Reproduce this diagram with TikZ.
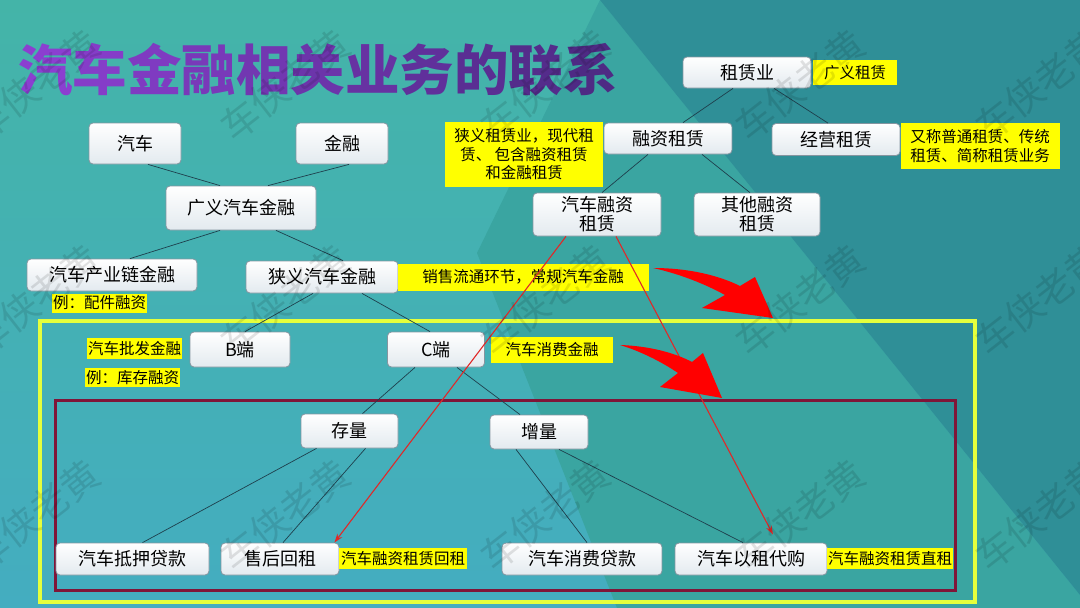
\documentclass[tikz,border=0pt]{standalone}
\usepackage{fontspec}
\setmainfont{Noto Sans CJK SC}
\usetikzlibrary{arrows.meta}

\definecolor{bgtop}{HTML}{44B4A8}
\definecolor{bgbottom}{HTML}{44ADC0}
\definecolor{bgmid}{HTML}{3AA5A1}
\definecolor{bgdark}{HTML}{2F8F97}
\definecolor{boxfill}{HTML}{E3EAEF}
\definecolor{boxline}{HTML}{8595A0}
\definecolor{tagyellow}{HTML}{FFFF00}
\definecolor{frameyellow}{HTML}{E5FF3C}
\definecolor{framemaroon}{HTML}{7F1538}
\definecolor{linkdark}{HTML}{1E3F4C}
\definecolor{redline}{HTML}{E02828}
\definecolor{tpA}{HTML}{8B3FD0}
\definecolor{tpB}{HTML}{4E2A84}

\begin{document}
\begin{tikzpicture}[x=1pt,y=-1pt,
  box/.style={rectangle,rounded corners=4pt,draw=boxline,line width=0.8pt,
    top color=white,bottom color=boxfill,align=center,inner sep=0pt,
    font=\fontsize{18}{19}\selectfont,minimum width=#1,minimum height=32pt},
  box/.default=128pt,
  yellowtag/.style={rectangle,fill=tagyellow,align=center,inner sep=0pt,
    font=\fontsize{15.5}{18.5}\selectfont,minimum width=#1,minimum height=21pt},
  link/.style={draw=linkdark,line width=0.7pt},
  redlink/.style={draw=redline,line width=1.1pt,-{Stealth[length=9pt,width=6pt]}},
  bigarrow/.style={fill=red,draw=none},
  wmk/.style={font=\fontsize{38}{38}\selectfont,text=black,text opacity=0.11}]
\useasboundingbox (0,0) rectangle (1080,608);

% background
\shade[top color=bgtop,bottom color=bgbottom] (0,0) rectangle (1080,608);
\fill[bgmid] (600,0) -- (1080,595) -- (1080,608) -- (617,608) -- (477,253) -- cycle;
\fill[bgdark] (600,0) -- (1080,0) -- (1080,595) -- cycle;

% title
\node[font=\fontsize{54.5}{60}\selectfont\bfseries] (title) at (318,70)
  {\color{tpA}汽\color{tpA!90!tpB}车\color{tpA!80!tpB}金\color{tpA!70!tpB}融\color{tpA!60!tpB}相\color{tpA!50!tpB}关\color{tpA!40!tpB}业\color{tpA!30!tpB}务\color{tpA!20!tpB}的\color{tpA!10!tpB}联\color{tpB}系};

% frames
\draw[frameyellow,line width=3.5pt] (40,321) rectangle (975,602);
\draw[framemaroon,line width=3pt] (55,400) rectangle (955,590);

% leasing side
\node[box,minimum height=31pt] (zly) at (747,72.5) {租赁业};
\node[box,minimum height=31pt] (rzzl) at (668,138.5) {融资租赁};
\node[box] (jyzl) at (836,139.5) {经营租赁};
\node[box,minimum height=43pt] (qcrz) at (597,214.5) {汽车融资\\租赁};
\node[box=126pt,minimum height=43pt] (qtrz) at (757,214.5) {其他融资\\租赁};

% auto finance side
\node[box=92pt,minimum height=41pt] (qc) at (135,143.5) {汽车};
\node[box=92pt,minimum height=41pt] (jr) at (342,143.5) {金融};
\node[box=150pt,minimum height=44pt] (gyqc) at (241,208) {广义汽车金融};
\node[box=170pt] (cyl) at (112,275) {汽车产业链金融};
\node[box=152pt] (xyqc) at (322,277) {狭义汽车金融};
\node[box=100pt,minimum height=35pt] (bd) at (240,349.5) {B端};
\node[box=97pt,minimum height=35pt] (cd) at (436,349.5) {C端};
\node[box=97pt,minimum height=34pt] (cl) at (349.5,431) {存量};
\node[box=98pt,minimum height=34pt] (zl) at (539,432) {增量};
\node[box=153pt] (dy) at (132.5,559) {汽车抵押贷款};
\node[box=118pt] (shhz) at (280,559) {售后回租};
\node[box=160pt] (xfdk) at (582,559) {汽车消费贷款};
\node[box=152pt] (yzdg) at (751,559) {汽车以租代购};

% yellow notes
\node[yellowtag=84pt,minimum height=25pt] (gyzl) at (855,72.5) {广义租赁};
\node[yellowtag=158pt,minimum height=65pt] (xyzl) at (524,154.5) {狭义租赁业，现代租\\赁、 包含融资租赁\\和金融租赁};
\node[yellowtag=159pt,minimum height=46pt] (ptzl) at (980,146) {又称普通租赁、传统\\租赁、简称租赁业务};
\node[yellowtag=95pt,minimum height=19pt] (pjrz) at (99.5,303) {例：配件融资};
\node[yellowtag=251pt,minimum height=27pt] (xslt) at (523,277) {销售流通环节，常规汽车金融};
\node[yellowtag=95pt] (pfjr) at (134.5,348.5) {汽车批发金融};
\node[yellowtag=95pt,minimum height=19pt] (kcrz) at (132.5,377.5) {例：库存融资};
\node[yellowtag=122pt,minimum height=26pt] (xfjr) at (552,350) {汽车消费金融};
\node[yellowtag=128pt] (hz) at (403,558.5) {汽车融资租赁回租};
\node[yellowtag=126pt] (zz) at (890,558.5) {汽车融资租赁直租};

% tree links
\draw[link] ([xshift=-14pt]zly.south) -- ([xshift=15pt]rzzl.north);
\draw[link] ([xshift=27pt]zly.south) -- ([xshift=-8pt]jyzl.north);
\draw[link] ([xshift=-20pt]rzzl.south) -- ([xshift=5pt]qcrz.north);
\draw[link] ([xshift=34pt]rzzl.south) -- ([xshift=-7pt]qtrz.north);
\draw[link] ([xshift=13pt]qc.south) -- ([xshift=-21pt]gyqc.north);
\draw[link] ([xshift=7pt]jr.south) -- ([xshift=27pt]gyqc.north);
\draw[link] ([xshift=-21pt]gyqc.south) -- ([xshift=18pt]cyl.north);
\draw[link] ([xshift=35pt]gyqc.south) -- ([xshift=21pt]xyqc.north);
\draw[link] ([xshift=-9pt]xyqc.south) -- ([xshift=5pt]bd.north);
\draw[link] ([xshift=40pt]xyqc.south) -- ([xshift=-6pt]cd.north);
\draw[link] ([xshift=-21pt]cd.south) -- ([xshift=13pt]cl.north);
\draw[link] ([xshift=21pt]cd.south) -- ([xshift=-19pt]zl.north);
\draw[link] ([xshift=-33pt]cl.south) -- ([xshift=10pt]dy.north);
\draw[link] ([xshift=16pt]cl.south) -- ([xshift=3pt]shhz.north);
\draw[link] ([xshift=-23pt]zl.south) -- ([xshift=5pt]xfdk.north);
\draw[link] ([xshift=20pt]zl.south) -- ([xshift=-8pt]yzdg.north);

% leasing arrows
\draw[redlink] ([xshift=-31pt]qcrz.south) -- ([xshift=-5pt]shhz.north east);
\draw[redlink] ([xshift=19pt]qcrz.south) -- ([xshift=22pt,yshift=8pt]yzdg.north);

% big red arrows
\fill[bigarrow] (653,268) .. controls (690,268) and (720,276) .. (740,286)
  -- (755,277) -- (773,318) -- (702,308) -- (725,295)
  .. controls (705,284) and (680,274) .. cycle;
\fill[bigarrow] (620,345) .. controls (650,346) and (675,353) .. (692,362)
  -- (703,353) -- (722,398) -- (660,387) -- (678,373)
  .. controls (662,362) and (640,351) .. cycle;

% watermark
\foreach \wx in {35,285,545,800,1040}
  \foreach \wy in {85,300,515}
    \node[wmk,rotate=38] at (\wx,\wy) {车侠老黄};
\end{tikzpicture}
\end{document}
